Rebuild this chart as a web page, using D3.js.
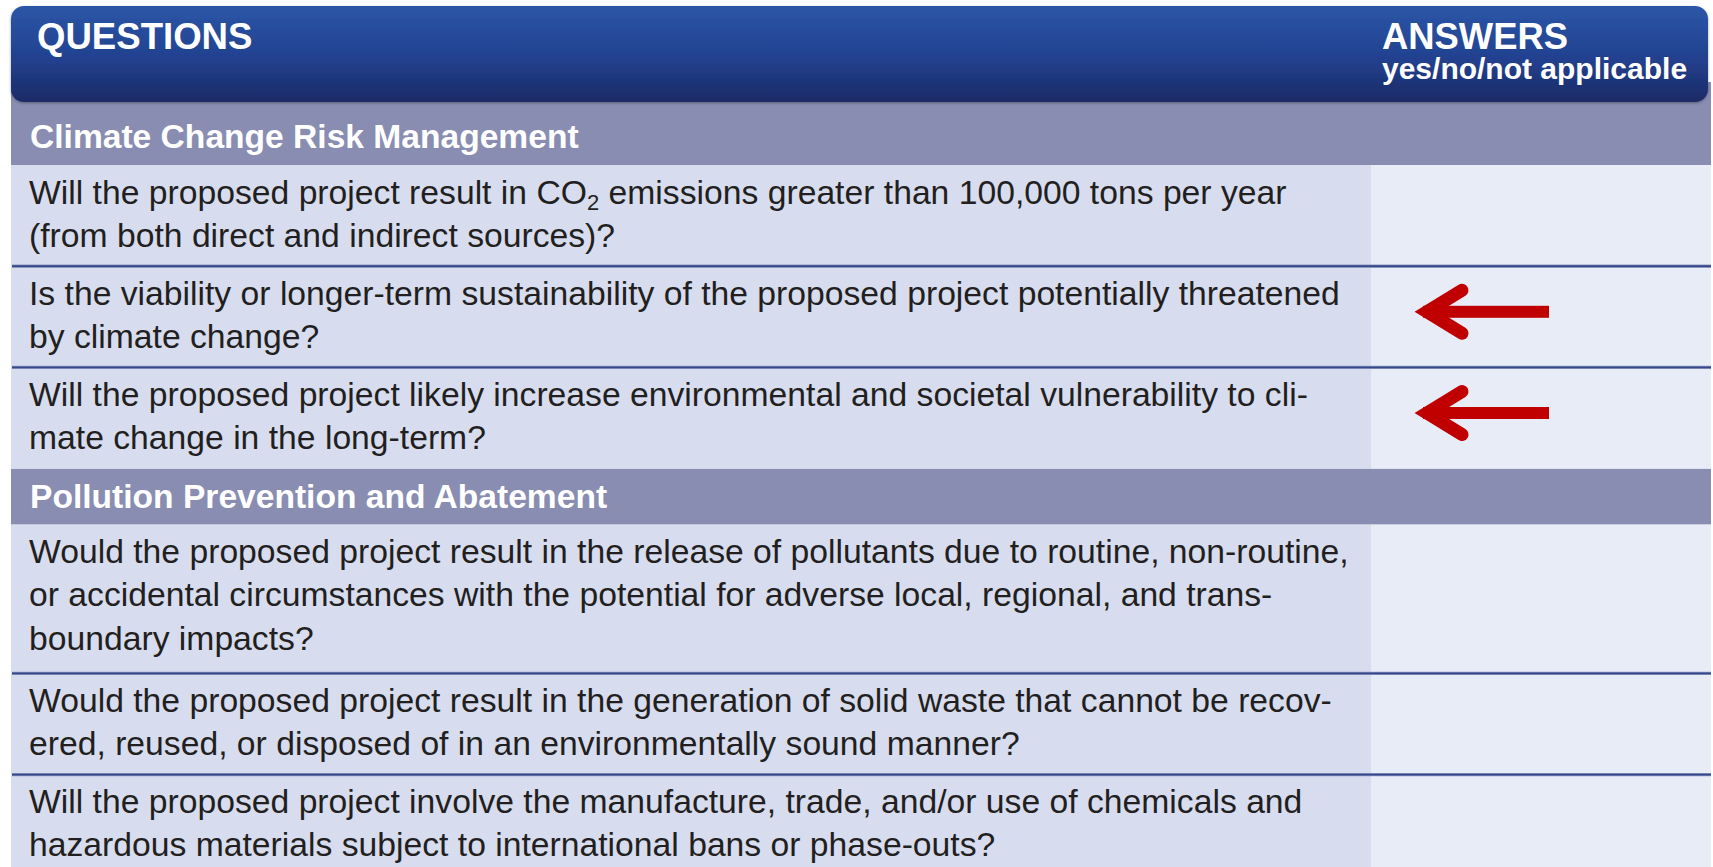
<!DOCTYPE html>
<html>
<head>
<meta charset="utf-8">
<script src="https://cdn.jsdelivr.net/npm/d3@7"></script>
<style>
  html, body { margin: 0; padding: 0; background: #fff; }
  svg { display: block; font-family: "Liberation Sans", Arial, sans-serif; }
</style>
</head>
<body>
<div id="chart"></div>
<script>
// table content
const headerLabels = ["QUESTIONS", "ANSWERS"];
const answerHint = "yes/no/not applicable";
const sections = ["Climate Change Risk Management", "Pollution Prevention and Abatement"];
const questionSection = [0, 0, 0, 1, 1, 1];
const questionLines = [
  ["Will the proposed project result in CO{2} emissions greater than 100,000 tons per year",
   "(from both direct and indirect sources)?"],
  ["Is the viability or longer-term sustainability of the proposed project potentially threatened",
   "by climate change?"],
  ["Will the proposed project likely increase environmental and societal vulnerability to cli-",
   "mate change in the long-term?"],
  ["Would the proposed project result in the release of pollutants due to routine, non-routine,",
   "or accidental circumstances with the potential for adverse local, regional, and trans-",
   "boundary impacts?"],
  ["Would the proposed project result in the generation of solid waste that cannot be recov-",
   "ered, reused, or disposed of in an environmentally sound manner?"],
  ["Will the proposed project involve the manufacture, trade, and/or use of chemicals and",
   "hazardous materials subject to international bans or phase-outs?"]
];
const flagged = [false, true, true, false, false, false];

const width = 1713, height = 867;
const left = 11, right = 1711, splitX = 1371;
const headerTop = 6, headerBottom = 102;
const bodyTop = 109;
const sectionH = 56;
const lineH = 43.3;

const svg = d3.select("#chart").append("svg")
  .attr("width", width)
  .attr("height", height);

const defs = svg.append("defs");
const grad = defs.append("linearGradient")
  .attr("id", "hdr").attr("x1", 0).attr("y1", 0).attr("x2", 0).attr("y2", 1);
grad.append("stop").attr("offset", "0%").attr("stop-color", "#2b56a7");
grad.append("stop").attr("offset", "55%").attr("stop-color", "#22418f");
grad.append("stop").attr("offset", "100%").attr("stop-color", "#1b2a66");

defs.append("filter").attr("id", "shadow")
  .attr("x", "-2%").attr("y", "-10%").attr("width", "104%").attr("height", "125%")
  .append("feDropShadow")
  .attr("dx", 0).attr("dy", 1).attr("stdDeviation", 1.6)
  .attr("flood-color", "#000").attr("flood-opacity", 0.35);

// build the vertical layout: section rows and question rows
const rows = [];
let y = bodyTop;
questionLines.forEach((lines, i) => {
  const s = questionSection[i];
  if (i === 0 || questionSection[i - 1] !== s) {
    rows.push({ type: "section", text: sections[s], y0: y, y1: y + sectionH });
    y += sectionH;
  }
  const h = 6 + lines.length * 47.6;
  rows.push({
    type: "question", index: i, lines: lines, flag: flagged[i], y0: y, y1: y + h,
    afterQuestion: rows.length > 0 && rows[rows.length - 1].type === "question"
  });
  y += h;
});

// grey band that sits behind the header's rounded bottom
svg.append("rect")
  .attr("x", left).attr("y", headerBottom - 20)
  .attr("width", right - left).attr("height", bodyTop - headerBottom + 20)
  .attr("fill", "#898db2");

const sectionRows = rows.filter(d => d.type === "section");
const questionRows = rows.filter(d => d.type === "question");

svg.selectAll("rect.section")
  .data(sectionRows)
  .join("rect")
  .attr("class", "section")
  .attr("x", left).attr("y", d => d.y0)
  .attr("width", right - left).attr("height", d => d.y1 - d.y0)
  .attr("fill", "#898db2");

svg.selectAll("text.section")
  .data(sectionRows)
  .join("text")
  .attr("class", "section")
  .attr("x", 30).attr("y", d => d.y1 - 17)
  .attr("fill", "#fff")
  .attr("font-size", 33.6)
  .attr("font-weight", "bold")
  .text(d => d.text);

const q = svg.selectAll("g.q")
  .data(questionRows)
  .join("g")
  .attr("class", "q");

q.append("rect")
  .attr("x", left).attr("y", d => d.y0)
  .attr("width", splitX - left).attr("height", d => d.y1 - d.y0)
  .attr("fill", "#d7ddef");

q.append("rect")
  .attr("x", splitX).attr("y", d => d.y0)
  .attr("width", right - splitX).attr("height", d => d.y1 - d.y0)
  .attr("fill", "#e8ecf7");

// separators between consecutive question rows
const seps = questionRows.filter(d => d.afterQuestion);
svg.selectAll("line.sepOuter")
  .data(seps)
  .join("line")
  .attr("class", "sepOuter")
  .attr("x1", left + 1).attr("x2", right)
  .attr("y1", d => d.y0).attr("y2", d => d.y0)
  .attr("stroke", "#8d98c2").attr("stroke-width", 3.4);
svg.selectAll("line.sepInner")
  .data(seps)
  .join("line")
  .attr("class", "sepInner")
  .attr("x1", left + 1).attr("x2", right)
  .attr("y1", d => d.y0).attr("y2", d => d.y0)
  .attr("stroke", "#34478a").attr("stroke-width", 1.8);

// question text, with subscript marked as {n}
q.each(function (d) {
  const g = d3.select(this);
  d.lines.forEach((line, k) => {
    const t = g.append("text")
      .attr("x", 29)
      .attr("y", d.y0 + 38.5 + k * lineH)
      .attr("fill", "#231f20")
      .attr("font-size", 33.7);
    const parts = line.split(/\{(\d+)\}/);
    parts.forEach((p, j) => {
      if (j % 2 === 1) {
        t.append("tspan").attr("font-size", 22).attr("dy", 6).text(p);
      } else if (p.length) {
        t.append("tspan").attr("dy", j > 0 ? -6 : 0).text(p);
      }
    });
  });
});

// red arrows in the answer column
const arrows = questionRows.filter(d => d.flag);
const ag = svg.selectAll("g.arrow")
  .data(arrows)
  .join("g")
  .attr("class", "arrow")
  .attr("transform", d => `translate(${splitX},${(d.y0 + d.y1) / 2 - 5})`);

ag.append("rect")
  .attr("x", 52).attr("y", -6)
  .attr("width", 126).attr("height", 12)
  .attr("fill", "#c00000");

ag.append("path")
  .attr("d", "M91,-21.5 L56,0 L91,21.5")
  .attr("fill", "none")
  .attr("stroke", "#c00000")
  .attr("stroke-width", 13)
  .attr("stroke-linecap", "round")
  .attr("stroke-linejoin", "miter")
  .attr("stroke-miterlimit", 10);

// header bar
svg.append("rect")
  .attr("x", left).attr("y", headerTop)
  .attr("width", 1708 - left).attr("height", headerBottom - headerTop)
  .attr("rx", 13).attr("ry", 13)
  .attr("fill", "url(#hdr)")
  .attr("filter", "url(#shadow)");

svg.append("text")
  .attr("x", 37).attr("y", 49)
  .attr("fill", "#fff").attr("font-size", 36.6).attr("font-weight", "bold")
  .text(headerLabels[0]);

svg.append("text")
  .attr("x", 1382).attr("y", 49)
  .attr("fill", "#fff").attr("font-size", 36.4).attr("font-weight", "bold")
  .text(headerLabels[1]);

svg.append("text")
  .attr("x", 1382).attr("y", 79)
  .attr("fill", "#fff").attr("font-size", 30).attr("font-weight", "bold")
  .text(answerHint);
</script>
</body>
</html>
